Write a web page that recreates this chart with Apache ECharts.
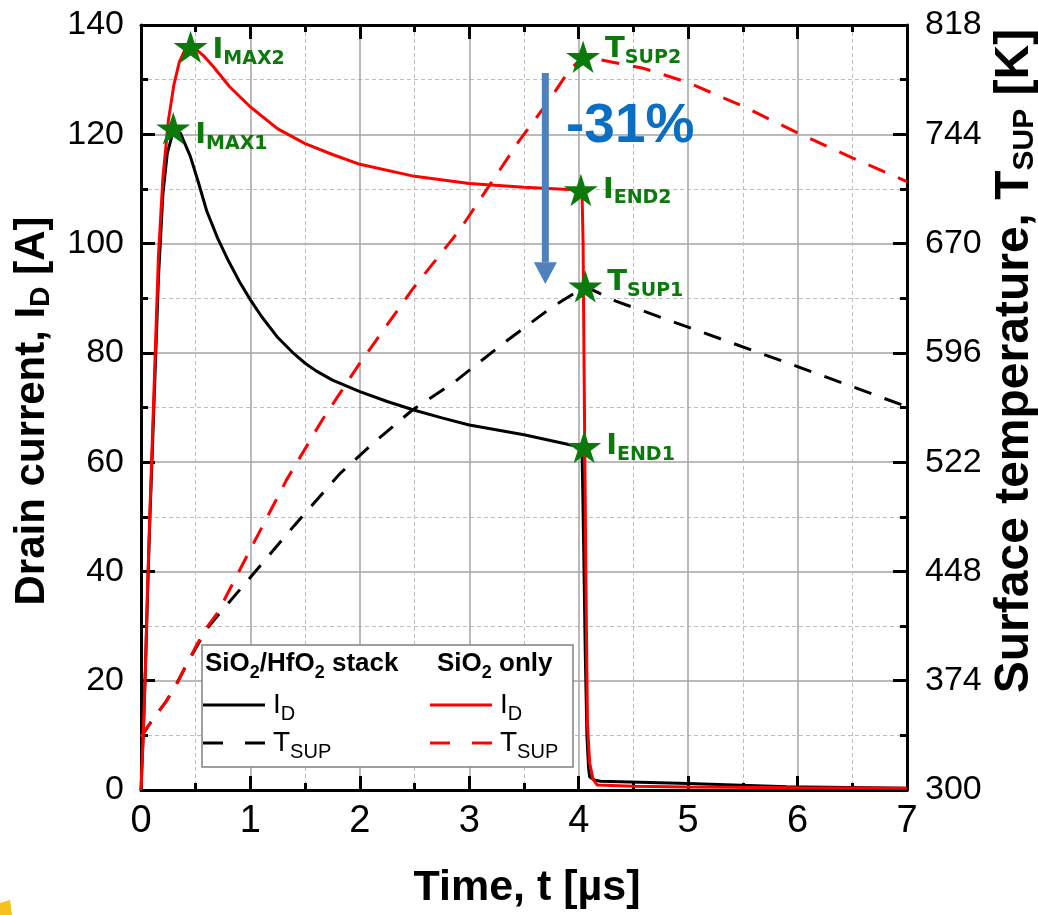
<!DOCTYPE html>
<html>
<head>
<meta charset="utf-8">
<script src="https://cdn.jsdelivr.net/npm/echarts@6/dist/echarts.min.js"></script>
<style>
  html, body { margin: 0; padding: 0; background: #ffffff; }
  #chart { width: 1038px; height: 915px; }
</style>
</head>
<body>
<div id="chart"></div>
<script>
// ---- Drain current of the SiO2/HfO2 stack device [A] vs time [µs]
const tStackId = [0, 0.02, 0.04, 0.06, 0.08, 0.1, 0.13, 0.16, 0.2, 0.24, 0.3, 0.36, 0.45, 0.52, 0.6, 0.7, 0.8, 0.9, 1.0, 1.1, 1.25, 1.4, 1.5, 1.6, 1.75, 2.0, 2.25, 2.5, 2.75, 3.0, 3.5, 3.94, 4.03, 4.045, 4.06, 4.075, 4.09, 4.1, 4.15, 4.2, 5.0, 5.9, 7.0];
const idStack  = [0, 10, 22, 36, 49, 60, 77, 94, 109, 116.5, 121, 120.2, 116, 111.5, 106, 101, 96.8, 93, 89.7, 86.7, 82.8, 79.8, 78.1, 76.7, 75.0, 72.9, 71.1, 69.5, 68.1, 66.8, 65.0, 63.1, 62.8, 45, 25, 10, 4, 2.4, 1.8, 1.6, 1.2, 0.6, 0.3];

// ---- Drain current of the SiO2-only device [A]
const tOxideId = [0, 0.02, 0.04, 0.06, 0.08, 0.1, 0.13, 0.16, 0.2, 0.25, 0.3, 0.35, 0.4, 0.45, 0.5, 0.57, 0.66, 0.81, 1.0, 1.25, 1.5, 1.75, 2.0, 2.5, 3.0, 3.5, 4.0, 4.03, 4.04, 4.05, 4.065, 4.08, 4.1, 4.13, 4.17, 4.5, 5.0, 6.0, 7.0];
const idOxide  = [0, 10, 22, 37, 50, 62, 80, 98, 112, 122.5, 129, 133.2, 135.4, 136, 135.6, 134.4, 132.4, 128.7, 125, 121, 118.3, 116.3, 114.5, 112.3, 111, 110.3, 109.8, 109.7, 100, 75, 40, 12, 5, 2, 0.9, 0.7, 0.55, 0.4, 0.3];

// ---- Surface temperature of the stack device [K]
const tStackT   = [0, 0.1, 0.23, 0.32, 0.41, 0.5, 0.6, 0.7, 1.0, 1.4, 1.82, 2.12, 2.48, 2.85, 3.31, 3.76, 4.06, 4.34, 5.0, 6.0, 7.0];
const tsupStack = [336, 347, 360, 371, 384, 396, 409, 418, 444, 479, 514.4, 534.7, 557.3, 575.4, 602.4, 627.2, 641, 631, 613.4, 586.7, 559.5];

// ---- Surface temperature of the SiO2-only device [K]
const tOxideT   = [0, 0.1, 0.23, 0.32, 0.41, 0.5, 0.6, 0.7, 1.0, 1.33, 1.66, 2.0, 2.48, 2.91, 3.28, 3.46, 3.73, 3.91, 4.04, 4.3, 4.6, 5.0, 5.5, 6.0, 6.5, 7.0];
const tsupOxide = [336, 347, 360, 371, 384, 397, 410, 420, 463, 510, 551, 589, 639, 679, 720, 740, 767, 787, 796.5, 793, 788.5, 779, 763, 745, 728, 712];

// ---- Marked points
const currentMarks = [
  { t: 0.453, v: 136.0, tag: 'MAX2' },
  { t: 0.295, v: 121.1, tag: 'MAX1' },
  { t: 4.02,  v: 109.8, tag: 'END2' },
  { t: 4.05,  v: 62.8,  tag: 'END1' }
];
const tempMarks = [
  { t: 4.04, v: 796.5, tag: 'SUP2' },
  { t: 4.06, v: 641,   tag: 'SUP1' }
];

// ---- Axis ranges / ticks
const timeRange = [0, 7], timeStep = 1;
const currentRange = [0, 140], currentStep = 20;
const tempBase = 300, tempTop = 818, tempStep = 74;   // right axis: 300 … 818 K

// ---- Change of the end current between the two devices
const dropLabel = '-31%';

// -------------------------------------------------------------------------
const SANS = "'Liberation Sans', Arial, sans-serif";
const GREEN = '#0b7a0b';
const STAR = 'path://M50,0 L61.23,34.55 L97.55,34.55 L68.17,55.9 L79.39,90.45 L50,69.1 L20.61,90.45 L31.83,55.9 L2.45,34.55 L38.77,34.55 Z';
// vertical nudges of a few mark labels (px)
const labelNudge = { MAX1: 7, MAX2: 4, SUP2: -7, SUP1: -4 };

const zip = (xs, ys, f) => xs.map((x, i) => [x, f ? f(ys[i]) : ys[i]]);
const toTempAxis = v => v - tempBase;

const chart = echarts.init(document.getElementById('chart'), null, { renderer: 'canvas' });

const blackLine = { color: '#000', width: 3 };
const tick = { show: true, inside: true, length: 14, lineStyle: { color: '#000', width: 3 } };
const minorTick = { show: true, splitNumber: 2, length: 7, lineStyle: { color: '#000', width: 3 } };
const tickLabel = { color: '#000', fontFamily: SANS, fontSize: 34 };

const markLabel = (letter) => ({
  show: true,
  position: 'right',
  distance: 5,
  color: GREEN,
  opacity: 1,
  textBorderWidth: 0,
  formatter: p => `{m|${letter}}{s|${p.name}}`,
  rich: {
    m: { fontFamily: 'DejaVu Sans', fontWeight: 'bold', fontSize: 29, color: GREEN },
    s: { fontFamily: 'DejaVu Sans', fontWeight: 'bold', fontSize: 19, color: GREEN, padding: [17, 0, 0, 0] }
  }
});
const markItem = (m, value) => ({
  name: m.tag, value: value,
  label: { offset: [0, labelNudge[m.tag] || 0] }
});

const option = {
  animation: false,
  backgroundColor: '#ffffff',
  grid: { left: 141, right: 131, top: 25, bottom: 125, containLabel: false },
  xAxis: [
    {
      type: 'value', min: timeRange[0], max: timeRange[1], interval: timeStep,
      position: 'bottom',
      axisLine: { show: true, onZero: false, lineStyle: blackLine },
      axisTick: tick, minorTick: minorTick,
      axisLabel: { ...tickLabel, fontSize: 38, margin: 13 },
      splitLine: { show: true, lineStyle: { color: '#a3a3a3', width: 1.5 } },
      minorSplitLine: { show: true, lineStyle: { color: '#bdbdbd', width: 1, type: [4, 3] } }
    },
    {
      type: 'value', min: timeRange[0], max: timeRange[1], interval: timeStep,
      position: 'top',
      axisLine: { show: true, onZero: false, lineStyle: blackLine },
      axisTick: tick, minorTick: minorTick,
      axisLabel: { show: false },
      splitLine: { show: false }
    }
  ],
  yAxis: [
    {
      type: 'value', min: currentRange[0], max: currentRange[1], interval: currentStep,
      position: 'left',
      axisLine: { show: true, onZero: false, lineStyle: blackLine },
      axisTick: tick, minorTick: minorTick,
      axisLabel: { ...tickLabel, margin: 17 },
      splitLine: { show: true, lineStyle: { color: '#a3a3a3', width: 1.5 } },
      minorSplitLine: { show: true, lineStyle: { color: '#bdbdbd', width: 1, type: [4, 3] } }
    },
    {
      type: 'value', min: 0, max: tempTop - tempBase, interval: tempStep,
      position: 'right',
      axisLine: { show: true, onZero: false, lineStyle: blackLine },
      axisTick: tick, minorTick: minorTick,
      axisLabel: { ...tickLabel, margin: 18, formatter: v => String(v + tempBase) },
      splitLine: { show: false }
    }
  ],
  series: [
    {
      name: 'I_D stack', type: 'line', xAxisIndex: 0, yAxisIndex: 0, z: 3,
      data: zip(tStackId, idStack), showSymbol: false, symbol: 'none',
      lineStyle: { color: '#000', width: 3 }
    },
    {
      name: 'T_SUP stack', type: 'line', xAxisIndex: 0, yAxisIndex: 1, z: 3,
      data: zip(tStackT, tsupStack, toTempAxis), showSymbol: false, symbol: 'none',
      lineStyle: { color: '#000', width: 3, type: [18, 14] }
    },
    {
      name: 'I_D SiO2', type: 'line', xAxisIndex: 0, yAxisIndex: 0, z: 4,
      data: zip(tOxideId, idOxide), showSymbol: false, symbol: 'none',
      lineStyle: { color: '#ff0000', width: 3 }
    },
    {
      name: 'T_SUP SiO2', type: 'line', xAxisIndex: 0, yAxisIndex: 1, z: 4,
      data: zip(tOxideT, tsupOxide, toTempAxis), showSymbol: false, symbol: 'none',
      lineStyle: { color: '#ff0000', width: 3, type: [18, 14] }
    },
    {
      name: 'current marks', type: 'scatter', xAxisIndex: 0, yAxisIndex: 0, z: 10,
      symbol: STAR, symbolSize: 34, symbolKeepAspect: true,
      itemStyle: { color: GREEN, opacity: 1 },
      data: currentMarks.map(m => markItem(m, [m.t, m.v])),
      label: markLabel('I')
    },
    {
      name: 'temperature marks', type: 'scatter', xAxisIndex: 0, yAxisIndex: 1, z: 10,
      symbol: STAR, symbolSize: 34, symbolKeepAspect: true,
      itemStyle: { color: GREEN, opacity: 1 },
      data: tempMarks.map(m => markItem(m, [m.t, toTempAxis(m.v)])),
      label: markLabel('T')
    }
  ]
};
chart.setOption(option);

// ---- Titles, legend box and the annotation arrow
const titleRich = (size, subSize, pad) => ({
  b: { fontFamily: SANS, fontWeight: 'bold', fontSize: size, color: '#000' },
  s: { fontFamily: SANS, fontWeight: 'bold', fontSize: subSize, color: '#000', padding: [pad, 0, 0, 0] }
});
const legendRich = {
  b: { fontFamily: SANS, fontWeight: 'bold', fontSize: 26, color: '#000' },
  bs: { fontFamily: SANS, fontWeight: 'bold', fontSize: 18, color: '#000', padding: [19, 0, 0, 0] },
  m: { fontFamily: SANS, fontSize: 28, color: '#000' },
  s: { fontFamily: SANS, fontSize: 20, color: '#000', padding: [18, 0, 0, 0] }
};

const arrowX = 3.695;
const pTop  = chart.convertToPixel({ xAxisIndex: 0, yAxisIndex: 0 }, [arrowX, 131.2]);
const pBase = chart.convertToPixel({ xAxisIndex: 0, yAxisIndex: 0 }, [arrowX, 96.6]);
const pTip  = chart.convertToPixel({ xAxisIndex: 0, yAxisIndex: 0 }, [arrowX, 92.6]);
const ARROW = '#4f81bd';

const legendItems = [];
const lx = 202, ly = 645;
legendItems.push({ type: 'rect', shape: { x: lx, y: ly, width: 371, height: 122 },
  style: { fill: '#ffffff', stroke: '#808080', lineWidth: 1.5 }, z: 20 });
legendItems.push({ type: 'text', x: 205, y: 664, z: 21,
  style: { text: '{b|SiO}{bs|2}{b|/HfO}{bs|2}{b| stack}', rich: legendRich, verticalAlign: 'middle' } });
legendItems.push({ type: 'text', x: 437, y: 664, z: 21,
  style: { text: '{b|SiO}{bs|2}{b| only}', rich: legendRich, verticalAlign: 'middle' } });
// solid I_D swatches
legendItems.push({ type: 'line', z: 21, shape: { x1: 203, y1: 705, x2: 265, y2: 705 }, style: { stroke: '#000', lineWidth: 3 } });
legendItems.push({ type: 'line', z: 21, shape: { x1: 430, y1: 705, x2: 492, y2: 705 }, style: { stroke: '#ff0000', lineWidth: 3 } });
// dashed T_SUP swatches
[[203, 223], [245, 265]].forEach(([a, b]) => legendItems.push({ type: 'line', z: 21, shape: { x1: a, y1: 743, x2: b, y2: 743 }, style: { stroke: '#000', lineWidth: 3 } }));
[[430, 450], [472, 492]].forEach(([a, b]) => legendItems.push({ type: 'line', z: 21, shape: { x1: a, y1: 743, x2: b, y2: 743 }, style: { stroke: '#ff0000', lineWidth: 3 } }));
[273, 500].forEach(x => {
  legendItems.push({ type: 'text', x: x, y: 705, z: 21, style: { text: '{m|I}{s|D}', rich: legendRich, verticalAlign: 'middle' } });
  legendItems.push({ type: 'text', x: x, y: 743, z: 21, style: { text: '{m|T}{s|SUP}', rich: legendRich, verticalAlign: 'middle' } });
});

chart.setOption({
  graphic: [
    // axis titles
    { type: 'text', x: 32, y: 411, rotation: Math.PI / 2, z: 20,
      style: { text: '{b|Drain current, I}{s|D}{b| [A]}', rich: titleRich(42, 28, 18), align: 'center', verticalAlign: 'middle' } },
    { type: 'text', x: 1015, y: 361, rotation: Math.PI / 2, z: 20,
      style: { text: '{b|Surface temperature, T}{s|SUP}{b| [K]}', rich: titleRich(48, 30, 20), align: 'center', verticalAlign: 'middle' } },
    { type: 'text', x: 527, y: 888, z: 20,
      style: { text: '{b|Time, t [µs]}', rich: titleRich(43, 30, 0), align: 'center', verticalAlign: 'middle' } },
    // legend
    { type: 'group', children: legendItems },
    // arrow showing the drop of the end current
    { type: 'rect', z: 15, shape: { x: pTop[0] - 3.5, y: pTop[1], width: 7, height: pBase[1] - pTop[1] },
      style: { fill: ARROW } },
    { type: 'polygon', z: 15, shape: { points: [[pBase[0] - 11.5, pBase[1]], [pBase[0] + 11.5, pBase[1]], [pTip[0], pTip[1]]] },
      style: { fill: ARROW } },
    { type: 'text', x: 566, y: 127, z: 15,
      style: { text: dropLabel, fontFamily: SANS, fontWeight: 'bold', fontSize: 55, fill: '#0a6fc2', verticalAlign: 'middle' } },
    // small yellow corner shape
    { type: 'polygon', z: 1, shape: { points: [[0, 903], [10, 900], [12, 915], [0, 915]] }, style: { fill: '#f6c11c' } }
  ]
});
</script>
</body>
</html>
